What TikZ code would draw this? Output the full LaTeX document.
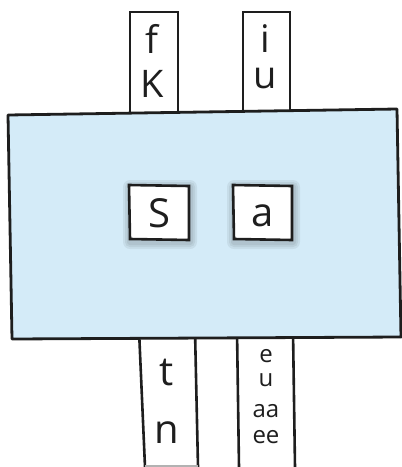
\documentclass[tikz,border=0pt]{standalone}
\usepackage{fontspec}
\setmainfont{Open Sans}
\definecolor{panelblue}{RGB}{212,235,248}
\definecolor{inkdark}{RGB}{30,30,30}
\tikzset{
  strip/.style={draw=inkdark, line width=2.6pt, fill=white},
  panel/.style={draw=inkdark, line width=2.8pt, fill=panelblue, line join=round},
  tile/.style={draw=inkdark, line width=2.6pt, fill=white},
  big/.style={anchor=base, inner sep=0pt, text=inkdark, font=\fontsize{40}{40}\selectfont},
  stack/.style={anchor=base, inner sep=0pt, align=center, text=inkdark},
}
\begin{document}
\begin{tikzpicture}[x=1pt,y=-1pt]
\useasboundingbox (0,0) rectangle (402,467);
% top strips
\draw[strip] (130,12) rectangle (178,118);
\draw[strip] (243,12) rectangle (290,116);
% bottom strips
\fill[white] (139,330) -- (145,466) -- (198,466) -- (195,330) -- cycle;
\draw[inkdark, line width=2.6pt] (139,330) -- (145,467);
\draw[inkdark, line width=2.6pt] (195,330) -- (198,467);
\draw[gray!60, line width=1.5pt] (145,466) -- (198,466);
\draw[inkdark, line width=2.6pt] (237,330) -- (239,467);
\draw[inkdark, line width=2.6pt] (293,330) -- (295,467);
% main panel
\draw[panel] (8,115) -- (397,109) -- (401,337) -- (12,339) -- cycle;
% tile glows
\foreach \o in {7,5,3}{
  \fill[black, opacity=0.06, rounded corners=\o pt] (129-\o+1,185-\o+2) rectangle (189+\o+1,240+\o+2);
  \fill[black, opacity=0.06, rounded corners=\o pt] (233-\o+1,185-\o+2) rectangle (292+\o+1,240+\o+2);
}
\draw[tile] (129,185) -- (189,186) -- (189,240) -- (130,239) -- cycle;
\draw[tile] (233,185) -- (292,186) -- (292,240) -- (234,239) -- cycle;
\node[big] (s) at (159,227) {S};
\node[big] (a) at (263,226) {a};
% top letters
\node[stack, font=\fontsize{38}{44}\selectfont] (topleft) at (152,97) {f\\K};
\node[stack, font=\fontsize{38}{36}\selectfont] (topright) at (265,88) {i\\u};
% bottom letters
\node[stack, font=\fontsize{40}{58}\selectfont] (botleft) at (167,443) {t\\n};
\node[stack, font=\fontsize{24}{24}\selectfont] (botright) at (266,443) {e\\u\\[7pt]aa\\[2pt]ee};
\end{tikzpicture}
\end{document}
